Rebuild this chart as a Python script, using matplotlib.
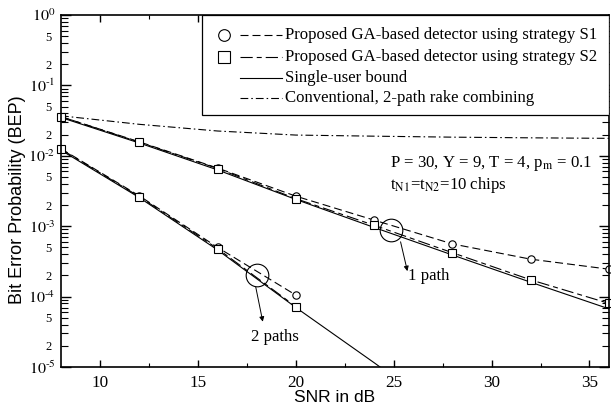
#!/usr/bin/env python3
"""BEP vs SNR for the GA-based multiuser detector (1-path and 2-path channels)."""

import matplotlib
matplotlib.use("Agg")
import matplotlib.pyplot as plt
import numpy as np
from matplotlib.lines import Line2D
from matplotlib.patches import Rectangle
from matplotlib.ticker import FuncFormatter, LogLocator, MultipleLocator

plt.rcParams["font.family"] = "serif"
plt.rcParams["font.serif"] = ["Liberation Serif", "DejaVu Serif"]
plt.rcParams["mathtext.fontset"] = "stix"

# ---------------------------------------------------------------------------
# Data
# ---------------------------------------------------------------------------
snr_1p = [8, 12, 16, 20, 24, 28, 32, 36]
bep_s1_1p = [3.6e-2, 1.58e-2, 6.7e-3, 2.67e-3, 1.22e-3, 5.6e-4, 3.4e-4, 2.45e-4]
bep_s2_1p = [3.6e-2, 1.56e-2, 6.6e-3, 2.46e-3, 1.03e-3, 4.2e-4, 1.73e-4, 8.0e-5]
bound_1p = [3.5e-2, 1.52e-2, 6.3e-3, 2.4e-3, 9.6e-4, 3.9e-4, 1.6e-4, 6.7e-5]

snr_2p = [8, 12, 16, 20]
bep_s1_2p = [1.26e-2, 2.7e-3, 5.0e-4, 1.05e-4]
bep_s2_2p = [1.24e-2, 2.63e-3, 4.8e-4, 7.2e-5]
snr_bound_2p = [8, 12, 16, 20, 24, 28]
bound_2p = [1.2e-2, 2.55e-3, 4.6e-4, 7.0e-5, 1.15e-5, 1.8e-6]

snr_conv = [8, 12, 16, 20, 24, 28, 32, 36]
bep_conv = [3.7e-2, 2.8e-2, 2.25e-2, 1.97e-2, 1.9e-2, 1.84e-2, 1.8e-2, 1.77e-2]

legend_labels = [
    "Proposed GA-based detector using strategy S1",
    "Proposed GA-based detector using strategy S2",
    "Single-user bound",
    "Conventional, 2-path rake combining",
]

# ---------------------------------------------------------------------------
# Styles
# ---------------------------------------------------------------------------
LW = 0.8
LS_S1 = (0, (7.2, 3.6))
LS_S2 = (0, (11, 3.6, 4.5, 3.6))
LS_CONV = (0, (7, 2.7, 1.4, 2.7))
MS = 5.3
FS = 12.1

fig = plt.figure(figsize=(6.11, 4.08), dpi=100)
ax = fig.add_axes([61 / 611, 1 - 367 / 408, 548 / 611, 352 / 408])

# ---- curves ----
ax.plot(snr_conv, bep_conv, color="black", lw=LW, ls=LS_CONV)
ax.plot(snr_1p, bound_1p, color="black", lw=LW, ls="-")
ax.plot(snr_bound_2p, bound_2p, color="black", lw=LW, ls="-")
for snr, bep in ((snr_1p, bep_s1_1p), (snr_2p, bep_s1_2p)):
    ax.plot(snr, bep, color="black", lw=LW, ls=LS_S1, marker="o", ms=MS,
            mfc="white", mec="black", mew=0.8, clip_on=False)
for snr, bep in ((snr_1p, bep_s2_1p), (snr_2p, bep_s2_2p)):
    ax.plot(snr, bep, color="black", lw=LW, ls=LS_S2, marker="s", ms=MS,
            mfc="white", mec="black", mew=0.8, clip_on=False)

# ---- axes ----
ax.set_yscale("log")
ax.set_xlim(8, 36)
ax.set_ylim(1e-5, 1)

ax.xaxis.set_major_locator(MultipleLocator(5))
ax.xaxis.set_minor_locator(MultipleLocator(2.5))
ax.yaxis.set_major_locator(LogLocator(base=10, numticks=10))
ax.yaxis.set_minor_locator(LogLocator(base=10, subs=np.arange(2, 10), numticks=20))


def major_fmt(v, pos):
    e = int(round(np.log10(v)))
    # short hyphen instead of the wide math minus
    sign = r"\text{-}" if e < 0 else ""
    return r"$10^{%s%d}$" % (sign, abs(e))


def minor_fmt(v, pos):
    mant = v / 10 ** np.floor(np.log10(v) + 1e-9)
    m = int(round(mant))
    return str(m) if m in (2, 5) else ""


ax.yaxis.set_major_formatter(FuncFormatter(major_fmt))
ax.yaxis.set_minor_formatter(FuncFormatter(minor_fmt))

ax.tick_params(axis="both", which="both", direction="in", top=True, right=True)
ax.tick_params(axis="y", which="major", length=7, width=1.0, labelsize=11.5, pad=4)
ax.tick_params(axis="y", which="minor", length=5, width=0.8, labelsize=9, pad=7)
ax.tick_params(axis="x", which="major", length=5, width=1.0, labelsize=12.3, pad=6)
ax.tick_params(axis="x", which="minor", length=3, width=0.8)
for sp in ax.spines.values():
    sp.set_linewidth(1.2)

ax.set_xlabel("SNR in dB", family="Liberation Sans", fontsize=12.5)
ax.set_ylabel("Bit Error Probability (BEP)", family="Liberation Sans", fontsize=13)
ax.yaxis.set_label_coords(-0.064, 0.475)
ax.xaxis.set_label_coords(0.5, -0.064)

# ---- annotations ----
ax.text(24.8, 7.9e-3, r"P = 30, Y = 9, T = 4, p$_{\mathrm{m}}$ = 0.1",
        fontsize=FS, ha="left", va="center")
ax.text(24.8, 3.85e-3, r"t$_{\mathrm{N1}}$=t$_{\mathrm{N2}}$=10 chips",
        fontsize=FS, ha="left", va="center")

ax.plot([18.0], [2.0e-4], marker="o", ms=16.3, mfc="none", mec="black", mew=0.8)
ax.plot([24.84], [8.8e-4], marker="o", ms=16.3, mfc="none", mec="black", mew=0.8)

arrow = dict(arrowstyle="-|>", color="black", lw=0.7, mutation_scale=7,
             shrinkA=0, shrinkB=0)
ax.annotate("", xy=(18.31, 4.4e-5), xytext=(17.95, 1.37e-4), arrowprops=arrow)
ax.annotate("", xy=(25.7, 2.3e-4), xytext=(25.35, 6.0e-4), arrowprops=arrow)
ax.text(18.92, 2.67e-5, "2 paths", fontsize=FS, ha="center", va="center")
ax.text(25.72, 1.93e-4, "1 path", fontsize=FS, ha="left", va="center")

# ---- legend (drawn by hand: marker sits apart from the line sample) ----
tr = ax.transAxes
ax.add_patch(Rectangle((0.257, 0.716), 0.743, 0.284, transform=tr,
                       fc="white", ec="black", lw=0.9, zorder=5))
rows_y = [0.943, 0.881, 0.821, 0.764]
styles = [LS_S1, LS_S2, "-", LS_CONV]
markers = ["o", "s", None, None]
for y, ls, mk, lab in zip(rows_y, styles, markers, legend_labels):
    if mk:
        ax.add_line(Line2D([0.297], [y], transform=tr, marker=mk, ms=8.4,
                           mfc="white", mec="black", mew=0.8, ls="none", zorder=6))
    ax.add_line(Line2D([0.327, 0.403], [y, y], transform=tr, color="black",
                       lw=LW, ls=ls, zorder=6))
    ax.text(0.409, y, lab, transform=tr, fontsize=FS, ha="left", va="center",
            zorder=6)

fig.savefig("out.png", dpi=100)
